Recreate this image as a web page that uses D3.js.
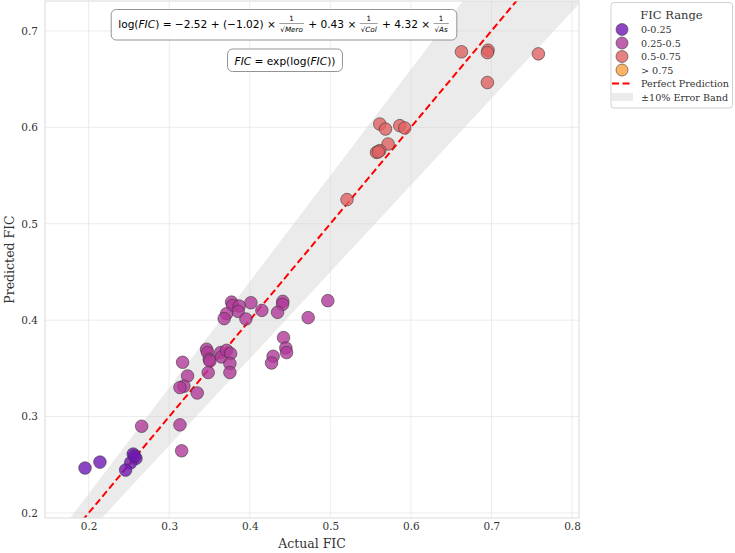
<!DOCTYPE html>
<html><head><meta charset="utf-8">
<script src="https://cdn.jsdelivr.net/npm/d3@7"></script>
<style>body{margin:0;background:#fff}</style>
</head><body>
<svg id="c" width="735" height="553"></svg>
<script>
// ---- data ----
const categories = ["0-0.25", "0.25-0.5", "0.5-0.75", "> 0.75"];
const categoryColors = ["#7018b4", "#b03a98", "#e06262", "#fba040"];
const actualFIC = [
  0.1955, 0.214, 0.2553, 0.2587, 0.2521, 0.2459, 0.2570,
  0.2658, 0.3133, 0.3154, 0.3166, 0.3228, 0.3182, 0.3133, 0.3348, 0.3464, 0.3476, 0.3497, 0.3505,
  0.3484, 0.3638, 0.3650, 0.3712, 0.3762, 0.3753, 0.3753, 0.3774, 0.3787, 0.3869, 0.3856, 0.3712,
  0.3682, 0.3952, 0.4014, 0.4150, 0.4410, 0.4407, 0.4345, 0.4725, 0.4969, 0.4419, 0.4448, 0.4457,
  0.4290, 0.4270,
  0.5207, 0.5614, 0.5685, 0.5862, 0.5924, 0.5717, 0.5573, 0.5614, 0.5595, 0.6628, 0.6958, 0.6950,
  0.7583, 0.6950
];
const predictedFIC = [
  0.2466, 0.2528, 0.2611, 0.2566, 0.2521, 0.2445, 0.2590,
  0.2900, 0.2914, 0.2645, 0.3563, 0.3421, 0.3315, 0.3301, 0.3245, 0.3698, 0.3664, 0.3594, 0.3575,
  0.3457, 0.3664, 0.3618, 0.3687, 0.3653, 0.3550, 0.3457, 0.4187, 0.4153, 0.4146, 0.4091, 0.4067,
  0.4016, 0.4012, 0.4181, 0.4101, 0.4195, 0.4164, 0.4081, 0.4026, 0.4202, 0.3819, 0.3711, 0.3664,
  0.3625, 0.3556,
  0.5250, 0.6034, 0.5982, 0.6017, 0.5993, 0.5827, 0.5740, 0.5758, 0.5745, 0.6783, 0.6800, 0.6775,
  0.6762, 0.6465
];
const pointCategory = [
  0,0,0,0,0,0,0,
  1,1,1,1,1,1,1,1,1,1,1,1,1,1,1,1,1,1,1,1,1,1,1,1,1,1,1,1,1,1,1,1,1,1,1,1,1,1,
  2,2,2,2,2,2,2,2,2,2,2,2,2,2
];
const xTicks = [0.2, 0.3, 0.4, 0.5, 0.6, 0.7, 0.8];
const yTicks = [0.2, 0.3, 0.4, 0.5, 0.6, 0.7];
const xDomain = [0.1458, 0.8087];
const yDomain = [0.1948, 0.731];
const bandPct = 0.10;

// ---- layout ----
const svg = d3.select("#c");
const L = 45, R = 579, T = 1, B = 518;
const x = d3.scaleLinear().domain(xDomain).range([L, R]);
const y = d3.scaleLinear().domain(yDomain).range([B, T]);
const serif = "DejaVu Serif, serif";
const sans = "DejaVu Sans, sans-serif";

svg.append("defs").append("clipPath").attr("id","clip")
  .append("rect").attr("x",L).attr("y",T).attr("width",R-L).attr("height",B-T);

// grid
const grid = svg.append("g");
grid.selectAll(".gx").data(xTicks).join("line")
  .attr("x1",d=>x(d)).attr("x2",d=>x(d)).attr("y1",T).attr("y2",B)
  .attr("stroke","#e6e6e6").attr("stroke-width",0.8);
grid.selectAll(".gy").data(yTicks).join("line")
  .attr("y1",d=>y(d)).attr("y2",d=>y(d)).attr("x1",L).attr("x2",R)
  .attr("stroke","#e6e6e6").attr("stroke-width",0.8);

const plot = svg.append("g").attr("clip-path","url(#clip)");
// band
const lineX = [0.10, 0.90];
const bandArea = d3.area().x(d=>x(d)).y0(d=>y(d*(1-bandPct))).y1(d=>y(d*(1+bandPct)));
plot.append("path").datum(lineX).attr("d", bandArea)
  .attr("fill","#d3d3d3").attr("fill-opacity",0.45);
// perfect line
plot.append("path").datum(lineX)
  .attr("d", d3.line().x(d=>x(d)).y(d=>y(d)))
  .attr("stroke","#ff0000").attr("stroke-width",2).attr("stroke-dasharray","7,3.5").attr("fill","none");

// points
const pts = actualFIC.map((a,i)=>({a, p:predictedFIC[i], c:pointCategory[i]}));
plot.selectAll("circle.pt").data(pts).join("circle")
  .attr("cx",d=>x(d.a)).attr("cy",d=>y(d.p)).attr("r",6.3)
  .attr("fill",d=>categoryColors[d.c]).attr("fill-opacity",0.8)
  .attr("stroke","#333").attr("stroke-opacity",0.8).attr("stroke-width",0.7);

// frame
svg.append("rect").attr("x",L).attr("y",T).attr("width",R-L).attr("height",B-T)
  .attr("fill","none").attr("stroke","#dadada").attr("stroke-width",1);

// axes labels
const xAx = svg.append("g").attr("transform",`translate(0,${B})`)
  .call(d3.axisBottom(x).tickValues(xTicks).tickFormat(d3.format(".1f")).tickSize(0).tickPadding(5));
const yAx = svg.append("g").attr("transform",`translate(${L},0)`)
  .call(d3.axisLeft(y).tickValues(yTicks).tickFormat(d3.format(".1f")).tickSize(0).tickPadding(7));
[xAx,yAx].forEach(g=>{ g.select(".domain").remove();
  g.selectAll("text").attr("font-family",serif).attr("font-size",10.5).attr("fill","#333"); });

svg.append("text").attr("x",(L+R)/2).attr("y",548).attr("text-anchor","middle")
  .attr("font-family",serif).attr("font-size",12.5).attr("fill","#333").text("Actual FIC");
svg.append("text").attr("transform",`translate(14,${(T+B)/2}) rotate(-90)`).attr("text-anchor","middle")
  .attr("font-family",serif).attr("font-size",12.5).attr("fill","#333").text("Predicted FIC");

// ---- equations ----
function mathBox(segs, cx, baseY, boxTop, boxH) {
  const g = svg.append("g");
  const fs = 10.6, sfs = 7.2;
  let cur = 0;
  const items = [];
  segs.forEach(s=>{
    if (s.frac) {
      const tn = g.append("text").attr("font-family",sans).attr("font-size",sfs).attr("text-anchor","middle").text(s.frac[0]);
      const td = g.append("text").attr("font-family",sans).attr("font-size",sfs).attr("text-anchor","middle");
      td.append("tspan").text("√");
      td.append("tspan").attr("font-style","italic").text(s.frac[1]);
      const w = Math.max(tn.node().getComputedTextLength(), td.node().getComputedTextLength()) + 2;
      items.push({type:"frac", tn, td, x:cur, w});
      cur += w + 1;
    } else {
      const t = g.append("text").attr("font-family",sans).attr("font-size",fs).attr("xml:space","preserve")
        .attr("font-style", s.it ? "italic" : "normal").text(s.t);
      const w = t.node().getComputedTextLength();
      items.push({type:"t", t, x:cur, w});
      cur += w;
    }
  });
  const x0 = cx - cur/2;
  items.forEach(it=>{
    if (it.type==="t") it.t.attr("x", x0+it.x).attr("y", baseY);
    else {
      const mx = x0 + it.x + it.w/2;
      it.tn.attr("x", mx).attr("y", baseY-7);
      it.td.attr("x", mx).attr("y", baseY+3.5);
      g.append("line").attr("x1",x0+it.x).attr("x2",x0+it.x+it.w).attr("y1",baseY-4.5).attr("y2",baseY-4.5)
        .attr("stroke","#888").attr("stroke-width",0.8);
    }
  });
  g.insert("rect",":first-child").attr("x",x0-7).attr("y",boxTop).attr("width",cur+14).attr("height",boxH)
    .attr("rx",5).attr("fill","#fff").attr("fill-opacity",0.85).attr("stroke","#888").attr("stroke-width",0.9);
}
mathBox([
  {t:"log("},{t:"FIC",it:true},{t:") = −2.52 + (−1.02) × "},{frac:["1","Mero"]},
  {t:" + 0.43 × "},{frac:["1","Col"]},{t:" + 4.32 × "},{frac:["1","As"]}
], 284, 28, 9.5, 30.5);
mathBox([
  {t:"FIC",it:true},{t:" = exp(log("},{t:"FIC",it:true},{t:"))"}
], 285, 64.5, 49, 22.5);

// ---- legend ----
const lg = svg.append("g");
lg.append("rect").attr("x",611).attr("y",2.5).attr("width",121.5).attr("height",105.5).attr("rx",3)
  .attr("fill","#fff").attr("stroke","#cccccc").attr("stroke-width",0.9);
lg.append("text").attr("x",671.5).attr("y",18.5).attr("text-anchor","middle")
  .attr("font-family",serif).attr("font-size",11.5).attr("fill","#333").text("FIC Range");
const rowY = [29.5, 43, 56.5, 70, 83.5, 97];
const lfs = 9.6;
categories.forEach((c,i)=>{
  lg.append("circle").attr("cx",622).attr("cy",rowY[i]).attr("r",6)
    .attr("fill",categoryColors[i]).attr("fill-opacity",0.8).attr("stroke","#333").attr("stroke-opacity",0.8).attr("stroke-width",0.7);
  lg.append("text").attr("x",641).attr("y",rowY[i]+3.5).attr("font-family",serif).attr("font-size",lfs).attr("fill","#333").text(c);
});
lg.append("line").attr("x1",612).attr("x2",633).attr("y1",rowY[4]).attr("y2",rowY[4])
  .attr("stroke","#ff0000").attr("stroke-width",2).attr("stroke-dasharray","7,3.5");
lg.append("text").attr("x",641).attr("y",rowY[4]+3.5).attr("font-family",serif).attr("font-size",lfs).attr("fill","#333").text("Perfect Prediction");
lg.append("rect").attr("x",612).attr("y",rowY[5]-4).attr("width",21).attr("height",8)
  .attr("fill","#d3d3d3").attr("fill-opacity",0.45);
lg.append("text").attr("x",641).attr("y",rowY[5]+3.5).attr("font-family",serif).attr("font-size",lfs).attr("fill","#333").text("±10% Error Band");
</script>
</body></html>
